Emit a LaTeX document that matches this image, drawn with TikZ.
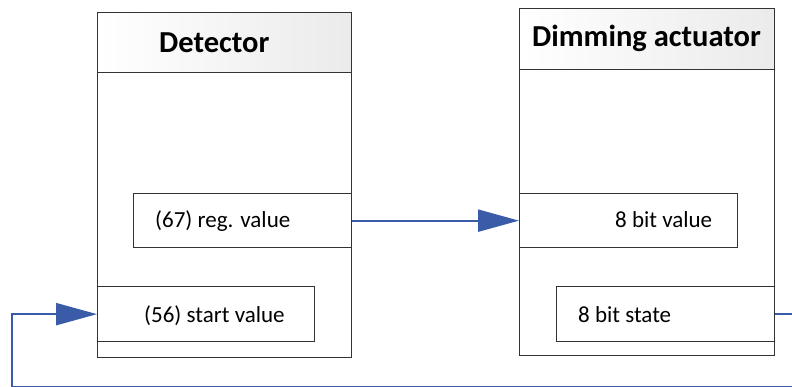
\documentclass[tikz,border=0pt]{standalone}
\usepackage{fontspec}
\setmainfont{Carlito}
\usetikzlibrary{arrows.meta}
\definecolor{conncol}{HTML}{3A5BA8}
\definecolor{boxcol}{HTML}{333333}
\tikzset{
  outerbox/.style={draw=boxcol, line width=1.3pt, fill=white, inner sep=0pt, anchor=north west},
  headbox/.style={draw=boxcol, line width=1.3pt, left color=white, right color=black!8, inner sep=0pt, anchor=north west},
  portbox/.style={draw=boxcol, line width=1.3pt, fill=white, inner sep=0pt, anchor=north west},
  headtxt/.style={font=\fontsize{30.5}{32}\selectfont\bfseries, inner sep=0pt, anchor=base west},
  porttxt/.style={font=\fontsize{23}{25}\selectfont, inner sep=0pt, anchor=base west},
  conn/.style={draw=conncol, line width=2.2pt, -{Triangle[length=41pt, width=22pt]}},
}
\begin{document}
\begin{tikzpicture}[x=1pt, y=-1pt]
\useasboundingbox (0,0) rectangle (792,387);
\clip (0,0) rectangle (792,387);
% Detector
\node[outerbox, minimum width=254pt, minimum height=345pt] (det) at (97,12) {};
\node[headbox, minimum width=254pt, minimum height=60pt] (dethead) at (97,12) {};
\node[headtxt] (dettxt) at (159,53) {Detector};
\node[portbox, minimum width=218pt, minimum height=54pt] (reg) at (133,193) {};
\node[porttxt] (regtxt) at (155,228) {(67) reg. value};
\node[portbox, minimum width=217pt, minimum height=55pt] (start) at (97,286) {};
\node[porttxt] (starttxt) at (144,322) {(56) start value};
% Dimming actuator
\node[outerbox, minimum width=255pt, minimum height=347pt] (dim) at (519,8) {};
\node[headbox, minimum width=255pt, minimum height=61pt] (dimhead) at (519,8) {};
\node[headtxt] (dimtxt) at (532,47) {Dimming actuator};
\node[portbox, minimum width=218pt, minimum height=54pt] (val) at (519,193) {};
\node[porttxt] (valtxt) at (615,228) {8 bit value};
\node[portbox, minimum width=218pt, minimum height=55pt] (state) at (556,286) {};
\node[porttxt] (statetxt) at (578,322) {8 bit state};
% connectors
\coordinate (rc) at (800,387);
\coordinate (lc) at (12,387);
\draw[conn] (reg.east) -- (val.west);
\draw[conn] (state.east) -| (rc) -- (lc) |- (start.west);
\end{tikzpicture}
\end{document}
